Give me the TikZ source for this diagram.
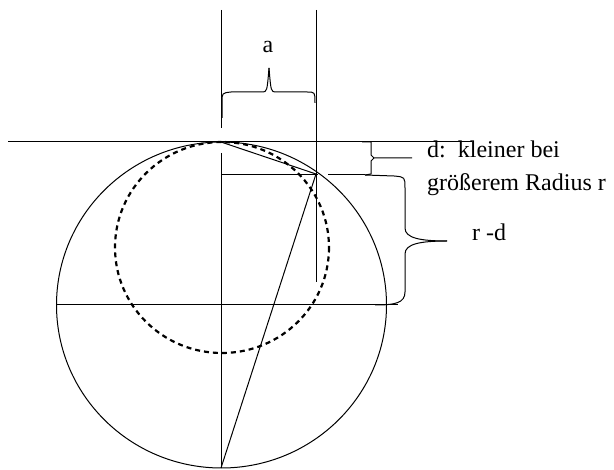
\documentclass[tikz,border=0pt]{standalone}
\usepackage{fontspec}
\setmainfont{Liberation Serif}
\begin{document}
\begin{tikzpicture}[x=1pt,y=-1pt,
  thinline/.style={line width=1pt,line cap=butt},
  dashcircle/.style={line width=2.2pt,dash pattern=on 5pt off 4pt},
  bracepath/.style={line width=1pt,line join=round},
  lbl/.style={font=\fontsize{24}{33}\selectfont,inner sep=0pt}]
\useasboundingbox (0,0) rectangle (614,470);
% key points
\coordinate (T) at (221,142);
\coordinate (B) at (221,468);
\coordinate (P) at (316,174);
\coordinate (C) at (221.5,305);
\coordinate (D) at (222,247.5);
\coordinate (LV1) at (221,10);
\coordinate (LV2) at (221,128);
\coordinate (LV3) at (221,153);
\coordinate (RV1) at (316,10);
\coordinate (RV2) at (316,282);
\coordinate (H1) at (8,142);
\coordinate (H2) at (472,142);
\coordinate (M1) at (221,175);
\coordinate (M2) at (318,175);
\coordinate (M3) at (328,175);
\coordinate (M4) at (365,175);
\coordinate (Q1) at (57,305);
\coordinate (Q2) at (398,305);
% circles
\draw[thinline] (C) ellipse [x radius=165, y radius=163];
\draw[dashcircle] (D) ellipse [x radius=107, y radius=105.5];
% straight lines
\draw[thinline] (LV1) -- (LV2);
\draw[thinline] (LV3) -- (B);
\draw[thinline] (RV1) -- (RV2);
\draw[thinline] (H1) -- (H2);
\draw[thinline] (M1) -- (M2);
\draw[thinline] (M3) -- (M4);
\draw[thinline] (Q1) -- (Q2);
\draw[thinline] (T) -- (P) -- (B);
% brace a
\draw[bracepath] (222,118) -- (222,102) .. controls (222,93) .. (231,92) -- (262,92)
   .. controls (267,92) .. (269,68);
\draw[bracepath] (269,68) .. controls (271,92) .. (276,92) -- (307,92)
   .. controls (315,92) .. (315,103);
% small brace d
\draw[bracepath] (362,142) -- (371,142) -- (371,155) -- (374,158) -- (412,158);
\draw[bracepath] (374,158) -- (371,161) -- (371,174) -- (365,175);
% large brace r-d
\draw[bracepath] (365,175) -- (394,176) .. controls (405,177) .. (405,188) -- (405,228)
   .. controls (405,238) and (420,241) .. (447,241);
\draw[bracepath] (447,241) .. controls (420,241) and (405,244) .. (405,254) -- (405,292)
   .. controls (405,303) and (395,305) .. (375,305);
% labels
\node[lbl] (la) at (268,47) {a};
\node[lbl,anchor=base west] (ld1) at (427,158) {d:\ \ kleiner bei};
\node[lbl,anchor=base west] (ld2) at (427,191) {größerem Radius r};
\node[lbl,anchor=base west] (lrd) at (472,241) {r -d};
\end{tikzpicture}
\end{document}
